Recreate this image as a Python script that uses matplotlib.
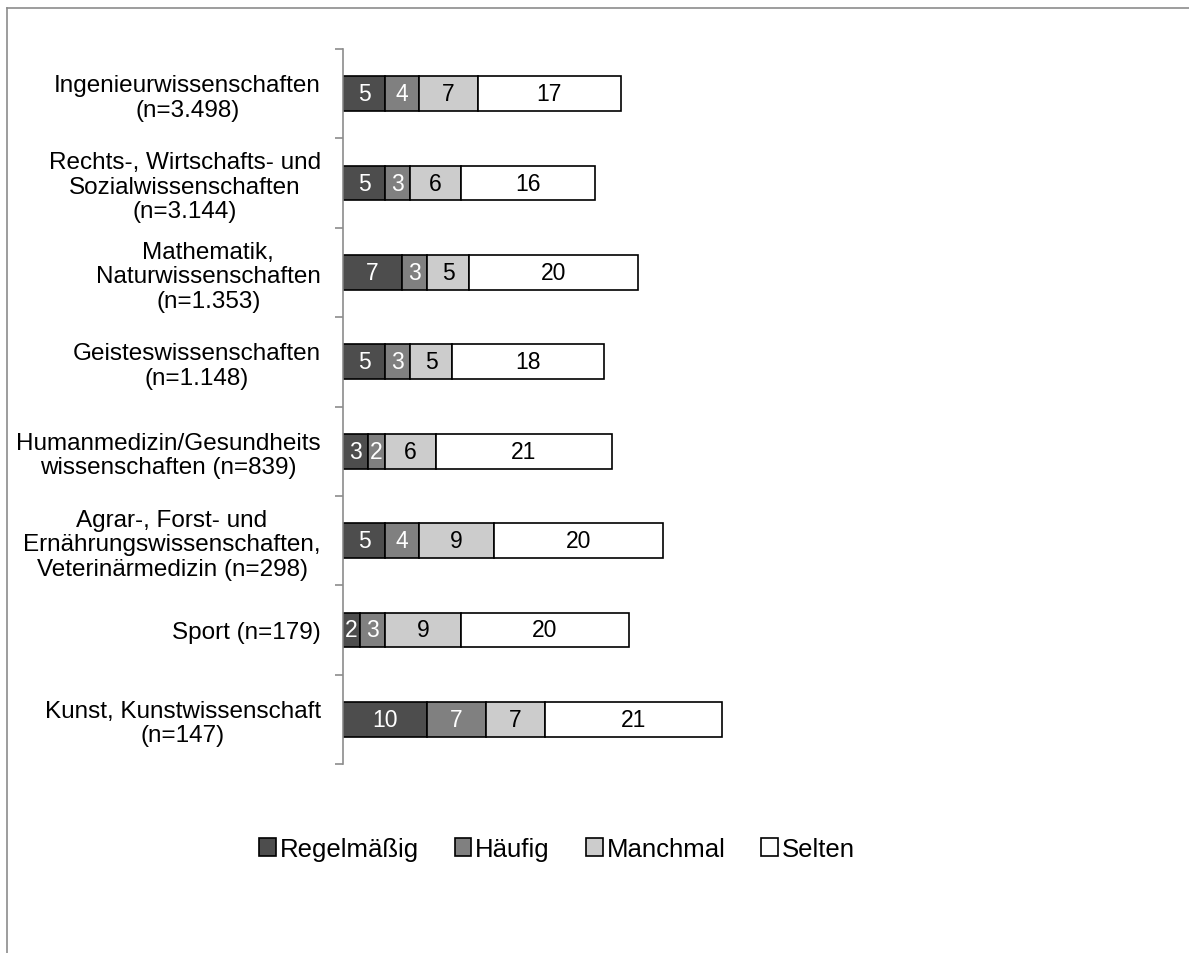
import numpy as np
import matplotlib
matplotlib.use("Agg")
import matplotlib.pyplot as plt
from matplotlib.lines import Line2D
from matplotlib.patches import Patch

plt.rcParams['font.family'] = ['Liberation Sans', 'DejaVu Sans']

# data
categories = [
    "Ingenieurwissenschaften\n(n=3.498)",
    "Rechts-, Wirtschafts- und\nSozialwissenschaften\n(n=3.144)",
    "Mathematik,\nNaturwissenschaften\n(n=1.353)",
    "Geisteswissenschaften\n(n=1.148)",
    "Humanmedizin/Gesundheits\nwissenschaften (n=839)",
    "Agrar-, Forst- und\nErnährungswissenschaften,\nVeterinärmedizin (n=298)",
    "Sport (n=179)",
    "Kunst, Kunstwissenschaft\n(n=147)",
]
series_names = ["Regelmäßig", "Häufig", "Manchmal", "Selten"]
regelmaessig = [5, 5, 7, 5, 3, 5, 2, 10]
haeufig = [4, 3, 3, 3, 2, 4, 3, 7]
manchmal = [7, 6, 5, 5, 6, 9, 9, 7]
selten = [17, 16, 20, 18, 21, 20, 20, 21]

colors = ["#4d4d4d", "#808080", "#cccccc", "#ffffff"]
text_colors = ["white", "white", "black", "black"]

W, H = 1189, 954
fig = plt.figure(figsize=(W / 100, H / 100), dpi=100)

# outer chart frame (only top and left visible)
fig.add_artist(Line2D([7 / W, 7 / W], [0, 1 - 9 / H], transform=fig.transFigure,
                      color="#8c8c8c", lw=1.2))
fig.add_artist(Line2D([7 / W, 1], [1 - 9 / H, 1 - 9 / H], transform=fig.transFigure,
                      color="#8c8c8c", lw=1.2))

ax = fig.add_axes([343 / W, 1 - 765 / H, 850 / W, 715 / H])

y = np.arange(len(categories))
left = np.zeros(len(categories))
all_series = [regelmaessig, haeufig, manchmal, selten]
for vals, name, c, tc in zip(all_series, series_names, colors, text_colors):
    vals = np.array(vals, dtype=float)
    bars = ax.barh(y, vals, left=left, height=0.39, color=c, edgecolor="black",
                   linewidth=1.2, label=name)
    for b, v in zip(bars, vals):
        ax.text(b.get_x() + b.get_width() / 2, b.get_y() + b.get_height() / 2,
                f"{int(v)}", ha="center", va="center", color=tc, fontsize=16.5)
    left += vals

ax.set_xlim(0, 101)
ax.set_ylim(len(categories) - 0.5, -0.5)
ax.set_xticks([])
ax.set_yticks(y)
ax.set_yticklabels(categories, multialignment="center", fontsize=17.5,
                   linespacing=1.15)
ax.set_yticks(np.arange(-0.5, len(categories)), minor=True)
ax.tick_params(axis="y", which="major", length=0, pad=16)
ax.tick_params(axis="y", which="minor", length=6, color="#8c8c8c", width=1.2)
for s in ["top", "right", "bottom"]:
    ax.spines[s].set_visible(False)
ax.spines["left"].set_color("#8c8c8c")
ax.spines["left"].set_linewidth(1.2)

handles = [Patch(facecolor=c, edgecolor="black", linewidth=1.2) for c in colors]
fig.legend(handles, series_names, loc="center", bbox_to_anchor=(557 / W, 1 - 850 / H),
           ncol=4, frameon=False, fontsize=18.5, handlelength=0.65, handleheight=0.65,
           handletextpad=0.15, columnspacing=1.4)

fig.savefig("out.png", dpi=100)
